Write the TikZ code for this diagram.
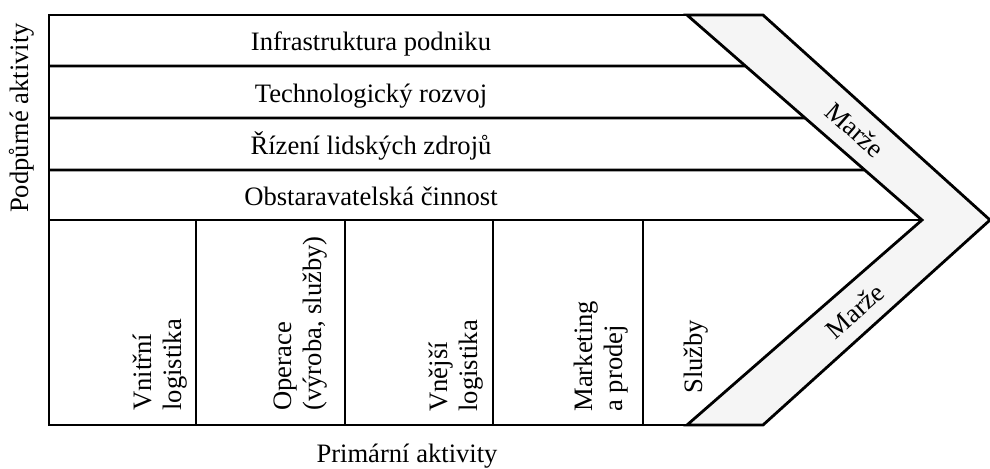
\documentclass[tikz,border=0pt]{standalone}
\usepackage{fontspec}
\setmainfont{Liberation Serif}
\usetikzlibrary{calc}
\begin{document}
\begin{tikzpicture}[x=0.5pt,y=-0.5pt,line width=1.4pt,
    every node/.style={font=\fontsize{13.3}{15}\selectfont,inner sep=0pt},
    primakt/.style={rotate=90,anchor=north west,align=left}]
  \useasboundingbox (0,0) rectangle (990,468);
  \def\ang{41.6}
  \coordinate (tl) at (687,15);
  \coordinate (tip) at (922,220);
  \coordinate (bl) at (687,425);
  % marze
  \draw[fill=gray!8] (tl) -- (763,15) -- (990,220) -- (763,425) -- (bl) -- (tip) -- cycle;
  \draw (tl) -- (49,15) -- (49,425) -- (bl);
  \foreach \y/\f in {66/0.2488,118/0.5024,170/0.7561}
    \draw (49,\y) -- ($(tl)!\f!(tip)$);
  \draw (49,220) -- (tip);
  \foreach \x in {196,345,493,643}
    \draw (\x,220) -- (\x,425);
  % podpurne
  \node[anchor=base] (infra) at (371,50) {Infrastruktura podniku};
  \node[anchor=base] (tech) at (371,102) {Technologický rozvoj};
  \node[anchor=base] (lidi) at (371,154) {Řízení lidských zdrojů};
  \node[anchor=base] (obst) at (371,205) {Obstaravatelská činnost};
  % primarni
  \node[primakt] (vnitr) at (132,412) {Vnitřní\\logistika};
  \node[primakt] (oper) at (272,412) {Operace\\(výroba, služby)};
  \node[primakt] (vnej) at (428,413) {Vnější\\logistika};
  \node[primakt] (mark) at (573,413) {Marketing\\a prodej};
  \node[primakt] (sluz) at (683,395) {Služby};
  \node[rotate=-\ang] (marze1) at (855,130) {Marže};
  \node[rotate=\ang] (marze2) at (855,311) {Marže};
  \node[rotate=90,anchor=base] (podp) at (28,118) {Podpůrné aktivity};
  \node[anchor=base] (prim) at (407,462) {Primární aktivity};
\end{tikzpicture}
\end{document}
